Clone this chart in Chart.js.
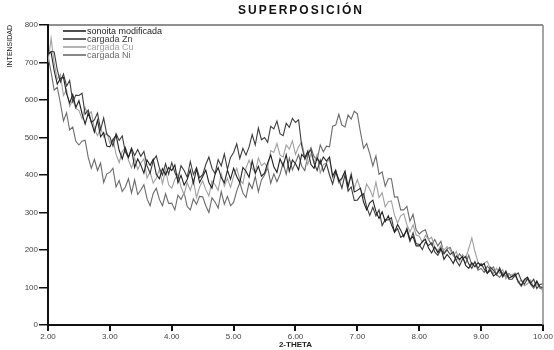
<!DOCTYPE html>
<html>
<head>
<meta charset="utf-8">
<script src="https://cdn.jsdelivr.net/npm/chart.js@4/dist/chart.umd.min.js"></script>
<style>
  html, body { margin: 0; padding: 0; background: #fff; }
  #wrap { width: 554px; height: 350px; }
</style>
</head>
<body>
<div id="wrap"><canvas id="chart"></canvas></div>
<script>
// 2-theta grid: 2.00 .. 10.00 every 0.05
const THETA_START = 2;
const THETA_STEP = 0.05;

const seriesNames = ["sonoita modificada", "cargada Zn", "cargada Cu", "cargada Ni"];
const seriesColors = ["#222222", "#3c3c3c", "#a0a0a0", "#6a6a6a"];

const sonoita = [
  725,727,678,642,658,660,617,592,615,580,
  598,564,536,564,542,514,546,502,513,477,
  475,494,506,466,443,472,447,470,420,443,
  427,405,440,426,442,402,390,417,401,420,
  412,427,379,399,373,388,413,378,416,380,
  396,413,380,365,402,420,393,379,413,389,
  418,396,380,420,410,394,438,404,423,397,
  405,432,453,422,407,443,424,454,410,440,
  430,414,455,446,464,428,418,446,430,448,
  437,448,397,413,383,392,410,368,400,355,
  359,365,328,307,326,333,303,284,302,276,
  291,268,248,268,253,235,258,228,236,211,
  211,222,229,205,192,208,193,206,175,188,
  178,164,184,175,183,159,151,166,155,166,
  158,164,138,146,131,137,147,128,144,125,
  130,136,116,106,122,128,111,102,117,102,
  100
];

const zn = [
  720,730,728,680,648,669,637,652,595,613,
  612,618,562,573,540,547,565,521,552,508,
  502,477,510,492,504,461,447,471,452,468,
  450,463,425,405,438,451,419,400,430,402,
  433,407,388,425,412,394,436,401,420,393,
  401,428,448,418,404,441,424,456,415,447,
  460,483,444,471,453,475,508,480,525,494,
  500,487,530,523,544,510,505,538,527,551,
  540,547,478,442,458,467,432,412,440,410,
  430,400,376,408,389,365,401,357,368,332,
  333,344,350,315,292,314,291,307,265,281,
  280,286,247,257,234,240,252,223,246,217,
  215,201,221,212,219,195,186,201,190,200,
  188,195,171,158,176,183,163,151,169,151,
  164,149,138,154,146,134,153,132,139,122,
  122,132,139,119,109,123,111,122,97,108,
  110
];

const cu = [
  700,765,698,655,668,612,628,583,600,578,
  572,550,580,560,569,523,505,525,502,513,
  485,496,455,433,463,474,440,419,445,415,
  432,443,392,408,378,391,415,377,413,374,
  365,388,403,368,348,380,359,386,340,368,
  384,361,344,384,374,359,403,370,391,367,
  397,418,388,377,418,440,417,407,445,425,
  432,420,465,460,484,453,448,480,469,491,
  455,476,488,450,428,457,432,455,405,428,
  432,443,392,408,378,389,410,371,405,365,
  388,362,341,376,362,342,381,340,353,315,
  329,331,293,272,291,297,268,248,267,240,
  237,221,239,228,234,208,198,212,200,209,
  200,184,196,170,188,178,204,232,196,168,
  158,165,170,150,137,151,138,148,123,134,
  134,139,113,120,105,110,120,101,118,99,
  100
];

const ni = [
  718,674,626,634,592,544,566,520,528,490,
  480,490,493,447,418,442,412,432,380,403,
  407,418,368,385,356,368,390,352,387,348,
  360,374,337,318,351,365,335,318,350,324,
  325,307,346,335,353,316,307,336,322,343,
  342,318,300,339,328,312,356,322,343,318,
  327,357,380,352,340,379,364,396,355,387,
  400,420,378,403,382,402,432,402,445,414,
  433,454,424,412,452,473,449,440,480,462,
  477,475,530,533,562,533,528,560,549,570,
  563,514,471,484,457,424,451,402,408,370,
  390,390,341,342,307,307,316,277,295,254,
  243,250,254,228,213,228,211,223,191,203,
  207,187,172,190,179,164,186,160,167,146,
  151,140,157,148,155,134,127,139,129,137,
  128,133,114,103,119,124,108,98,112,98,
  95
];

const yTicks = [0, 100, 200, 300, 400, 500, 600, 700, 800];
const xTicks = [2, 3, 4, 5, 6, 7, 8, 9, 10];

const theta = sonoita.map((_, i) => +(THETA_START + i * THETA_STEP).toFixed(2));
const toPoints = (vals) => vals.map((v, i) => ({ x: theta[i], y: v }));

const FONT = "'Liberation Sans', Arial, sans-serif";

// frame, title and the in-plot key
const decorations = {
  id: "decorations",
  afterDraw(chart) {
    const { ctx, chartArea: a } = chart;
    ctx.save();
    ctx.strokeStyle = "#222";
    ctx.lineWidth = 1.2;
    ctx.beginPath();
    ctx.moveTo(a.left, a.top);
    ctx.lineTo(a.right, a.top);
    ctx.stroke();
    ctx.strokeStyle = "#888";
    ctx.lineWidth = 1.5;
    ctx.beginPath();
    ctx.moveTo(a.right, a.top);
    ctx.lineTo(a.right, a.bottom);
    ctx.stroke();

    ctx.fillStyle = "#111";
    ctx.font = "bold 12px " + FONT;
    ctx.letterSpacing = "2px";
    ctx.textAlign = "center";
    ctx.textBaseline = "middle";
    ctx.fillText("SUPERPOSICIÓN", 301, 11);
    ctx.letterSpacing = "0px";

    ctx.font = "9px " + FONT;
    ctx.textAlign = "left";
    seriesNames.forEach((name, i) => {
      const y = 31 + i * 8;
      ctx.strokeStyle = seriesColors[i];
      ctx.lineWidth = 1.6;
      ctx.beginPath();
      ctx.moveTo(63, y);
      ctx.lineTo(86, y);
      ctx.stroke();
      ctx.fillStyle = seriesColors[i];
      ctx.fillText(name, 87, y + 0.5);
    });
    ctx.restore();
  }
};

new Chart(document.getElementById("chart"), {
  type: "line",
  data: {
    datasets: seriesNames.map((name, i) => ({
      label: name,
      data: toPoints([sonoita, zn, cu, ni][i]),
      borderColor: seriesColors[i],
      borderWidth: 1.1,
      pointRadius: 0,
      tension: 0,
      fill: false
    }))
  },
  options: {
    responsive: true,
    maintainAspectRatio: false,
    animation: false,
    layout: { padding: { top: 25, right: 10, left: 0, bottom: 0 } },
    plugins: { legend: { display: false }, title: { display: false }, tooltip: { enabled: false } },
    scales: {
      x: {
        type: "linear",
        min: 2, max: 10,
        afterFit(s) { s.height = 25; },
        afterBuildTicks(s) { s.ticks = xTicks.map(v => ({ value: v })); },
        border: { display: true, color: "#111", width: 2 },
        grid: { display: true, drawOnChartArea: false, drawTicks: true, tickLength: 6, color: "#111", lineWidth: 2 },
        ticks: { color: "#444", font: { family: FONT, size: 8 }, padding: 1, maxRotation: 0,
          callback: (v) => Number(v).toFixed(2) },
        title: { display: true, text: "2-THETA", color: "#222", font: { family: FONT, size: 8, weight: "bold" }, padding: { top: 1, bottom: 0 } }
      },
      y: {
        min: 0, max: 800,
        afterFit(s) { s.width = 48; },
        afterBuildTicks(s) { s.ticks = yTicks.map(v => ({ value: v })); },
        border: { display: true, color: "#111", width: 2 },
        grid: { display: true, drawOnChartArea: false, drawTicks: true, tickLength: 9, color: "#111", lineWidth: 1.5 },
        ticks: { color: "#444", font: { family: FONT, size: 8 }, padding: 1 },
        title: { display: true, text: "INTENSIDAD", align: "end", color: "#222", font: { family: FONT, size: 7 }, padding: { top: 6, bottom: 0 } }
      }
    }
  },
  plugins: [decorations]
});
</script>
</body>
</html>
